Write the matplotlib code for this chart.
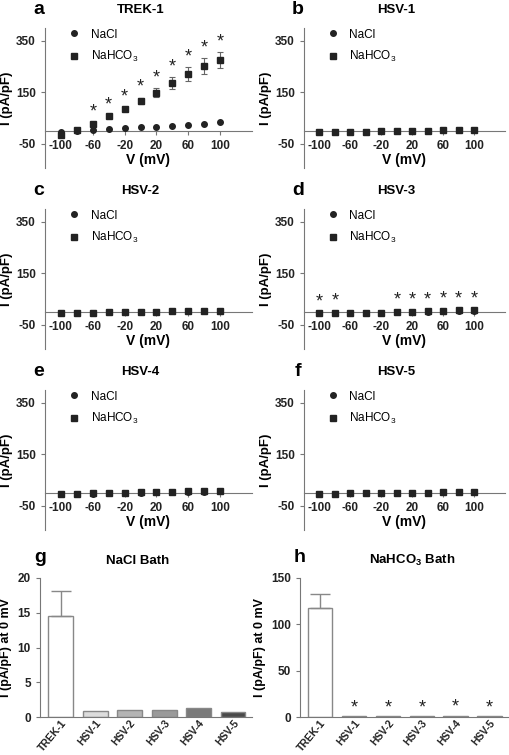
import matplotlib
matplotlib.use('Agg')
import matplotlib.pyplot as plt

plt.rcParams['font.family'] = ['Liberation Sans', 'DejaVu Sans']
plt.rcParams['mathtext.default'] = 'regular'
plt.rcParams['axes.unicode_minus'] = False

voltages = [-100, -80, -60, -40, -20, 0, 20, 40, 60, 80, 100]

trek_nacl = [-4, 0, 4, 8, 10, 14, 16, 18, 23, 26, 35]
trek_hco3 = [-17, 3, 27, 56, 84, 117, 148, 186, 221, 251, 275]
trek_hco3_err = [3, 3, 4, 5, 6, 12, 18, 22, 26, 32, 30]
trek_sig = [0, 0, 1, 1, 1, 1, 1, 1, 1, 1, 1]

hsv1_nacl = [-4, -4, -3, -3, -2, -2, -1, 0, 1, 2, 3]
hsv1_hco3 = [-4, -4, -3, -3, -2, -1, -1, 0, 1, 2, 3]
hsv2_nacl = [-4, -3, -3, -2, -2, -1, 0, 1, 2, 3, 4]
hsv2_hco3 = [-4, -3, -3, -2, -2, -1, 0, 1, 2, 3, 4]
hsv3_nacl = [-5, -5, -4, -4, -3, -2, -1, 0, 1, 2, 3]
hsv3_hco3 = [-6, -5, -4, -3, -3, -1, 0, 2, 3, 5, 6]
hsv3_sig = [1, 1, 0, 0, 0, 1, 1, 1, 1, 1, 1]
hsv4_nacl = [-4, -3, -3, -2, -1, 0, 1, 2, 3, 4, 5]
hsv4_hco3 = [-4, -3, -2, -1, 0, 1, 2, 4, 5, 7, 8]
hsv5_nacl = [-3, -3, -2, -2, -1, -1, 0, 0, 1, 1, 2]
hsv5_hco3 = [-3, -3, -2, -2, -1, -1, 0, 0, 1, 1, 2]

bar_labels = ['TREK-1', 'HSV-1', 'HSV-2', 'HSV-3', 'HSV-4', 'HSV-5']
nacl_bath = [14.6, 0.8, 1.0, 0.95, 1.3, 0.75]
nacl_bath_err = [3.5, 0.03, 0.03, 0.03, 0.05, 0.03]
hco3_bath = [118, 0.6, 0.6, 0.8, 1.2, 0.8]
hco3_bath_err = [15, 0.1, 0.1, 0.1, 0.1, 0.1]
hco3_sig = [0, 1, 1, 1, 1, 1]
bar_colors = ['white', '#dcdcdc', '#b4b4b4', '#9a9a9a', '#7a7a7a', '#4a4a4a']

W, H = 510, 755
fig = plt.figure(figsize=(W / 100, H / 100), dpi=100)

def px_axes(x0, y0, x1, y1):
    return fig.add_axes([x0 / W, 1 - y1 / H, (x1 - x0) / W, (y1 - y0) / H])

dark = '#222222'
axcol = '#777777'

def iv_panel(ax, letter, title, nacl, hco3, err=None, sig=None):
    ax.plot(voltages, nacl, 'o', color=dark, ms=4, label='NaCl', zorder=3)
    ax.plot(voltages, hco3, 's', color=dark, ms=4.5, label='NaHCO$_3$', zorder=4)
    if err is not None:
        ax.errorbar(voltages, hco3, yerr=err, fmt='none', ecolor='#666666',
                    elinewidth=0.8, capsize=2.5, capthick=0.8, zorder=2)
    if sig is not None:
        e = err if err is not None else [4] * len(voltages)
        for v, y, ee, s in zip(voltages, hco3, e, sig):
            if s:
                ax.text(v, y + ee + 8, '*', ha='center', va='bottom',
                        fontsize=13, color=dark)
    ax.set_xlim(-120, 140)
    ax.set_ylim(-145, 400)
    ax.spines['top'].set_visible(False)
    ax.spines['right'].set_visible(False)
    ax.spines['bottom'].set_position(('data', 0))
    ax.spines['bottom'].set_color(axcol)
    ax.spines['left'].set_color(axcol)
    ax.set_xticks([-100, -60, -20, 20, 60, 100])
    ax.set_yticks([-50, 150, 350])
    ax.tick_params(colors=axcol, labelcolor=dark, labelsize=8.5, length=3, width=0.8)
    for lab in ax.get_xticklabels() + ax.get_yticklabels():
        lab.set_fontweight('bold')
    ax.set_xlabel('V (mV)', fontsize=10, fontweight='bold', labelpad=1)
    ax.set_ylabel('I (pA/pF)', fontsize=9.5, fontweight='bold', labelpad=2)
    ax.legend(loc='upper left', bbox_to_anchor=(0.09, 1.03), frameon=False,
              handlelength=1.0, handletextpad=0.9, labelspacing=0.75, fontsize=8.5,
              borderaxespad=0)
    ax.text(-0.03, 1.13, letter, transform=ax.transAxes, fontsize=14,
            fontweight='bold', ha='center', va='center')
    ax.text(0.46, 1.13, title, transform=ax.transAxes, fontsize=9.5,
            fontweight='bold', ha='center', va='center')

ax_a = px_axes(45, 28, 252, 168)
ax_b = px_axes(304, 28, 505, 168)
ax_c = px_axes(45, 209, 252, 349)
ax_d = px_axes(304, 209, 505, 349)
ax_e = px_axes(45, 390, 252, 530)
ax_f = px_axes(304, 390, 505, 530)

iv_panel(ax_a, 'a', 'TREK-1', trek_nacl, trek_hco3, trek_hco3_err, trek_sig)
iv_panel(ax_b, 'b', 'HSV-1', hsv1_nacl, hsv1_hco3)
iv_panel(ax_c, 'c', 'HSV-2', hsv2_nacl, hsv2_hco3)
iv_panel(ax_d, 'd', 'HSV-3', hsv3_nacl, hsv3_hco3, sig=hsv3_sig)
iv_panel(ax_e, 'e', 'HSV-4', hsv4_nacl, hsv4_hco3)
iv_panel(ax_f, 'f', 'HSV-5', hsv5_nacl, hsv5_hco3)

def bar_panel(ax, letter, title, vals, errs, ylim, yticks, title_x, sig=None):
    x = list(range(len(bar_labels)))
    ax.bar(x, vals, width=0.72, color=bar_colors, edgecolor='#888888', linewidth=1)
    ax.errorbar(x[0], vals[0], yerr=[[0], [errs[0]]], fmt='none', ecolor='#888888',
                elinewidth=1, capsize=7, capthick=1)
    if sig is not None:
        for xi, v, s in zip(x, vals, sig):
            if s:
                ax.text(xi, v, '*', ha='center', va='bottom',
                        fontsize=13, color=dark)
    ax.set_xlim(-0.6, 5.55)
    ax.set_ylim(*ylim)
    ax.set_yticks(yticks)
    ax.set_xticks(x)
    ax.set_xticklabels(bar_labels, rotation=50, ha='right', rotation_mode='anchor')
    ax.spines['top'].set_visible(False)
    ax.spines['right'].set_visible(False)
    ax.spines['bottom'].set_color(axcol)
    ax.spines['left'].set_color(axcol)
    ax.tick_params(axis='x', length=0, pad=1, labelsize=7.5)
    ax.tick_params(axis='y', labelsize=8.5, length=3)
    ax.tick_params(colors=axcol, labelcolor=dark, width=0.8)
    for lab in ax.get_xticklabels() + ax.get_yticklabels():
        lab.set_fontweight('bold')
    ax.set_ylabel('I (pA/pF) at 0 mV', fontsize=9, fontweight='bold', labelpad=4)
    ax.text(0.0, 1.145, letter, transform=ax.transAxes, fontsize=14,
            fontweight='bold', ha='center', va='center')
    ax.text(title_x, 1.125, title, transform=ax.transAxes, fontsize=9.5,
            fontweight='bold', ha='center', va='center')

ax_g = px_axes(40, 578, 252, 717)
ax_h = px_axes(300, 578, 508, 717)
bar_panel(ax_g, 'g', 'NaCl Bath', nacl_bath, nacl_bath_err, (0, 20), [0, 5, 10, 15, 20], 0.46)
bar_panel(ax_h, 'h', 'NaHCO$_3$ Bath', hco3_bath, hco3_bath_err, (0, 150), [0, 50, 100, 150], 0.54, hco3_sig)

fig.savefig('out.png', dpi=100)
